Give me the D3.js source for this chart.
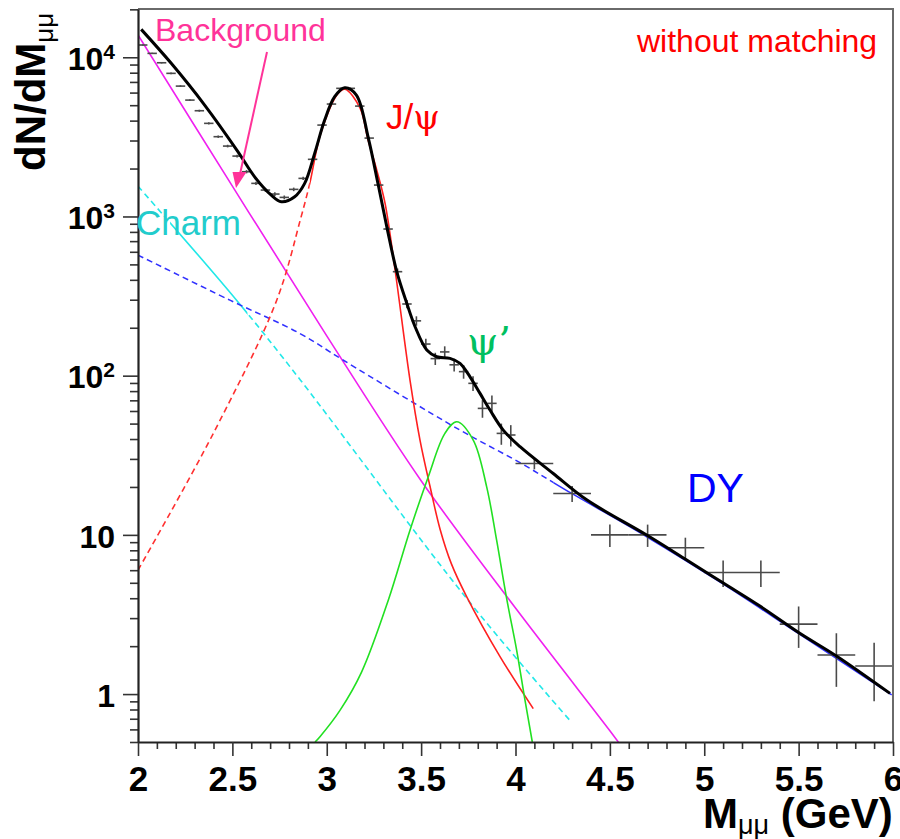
<!DOCTYPE html>
<html>
<head>
<meta charset="utf-8">
<script src="https://cdn.jsdelivr.net/npm/d3@7"></script>
<style>
  body { margin: 0; background: #fff; }
  text { font-family: "Liberation Sans", Arial, Helvetica, sans-serif; }
</style>
</head>
<body>
<svg id="chart" width="900" height="839"></svg>
<script>
// measured points (0.05 GeV bins)
const fineMass = [2.025, 2.075, 2.125, 2.175, 2.225, 2.275, 2.325, 2.375, 2.425, 2.475,
                  2.525, 2.575, 2.625, 2.675, 2.725, 2.775, 2.825, 2.875, 2.925, 2.975,
                  3.025, 3.075, 3.125, 3.175, 3.225, 3.275, 3.325, 3.375, 3.425, 3.475,
                  3.525, 3.575, 3.625, 3.675, 3.725, 3.775, 3.825, 3.875, 3.925, 3.975];
const fineValue = [11940, 10580, 9236, 7925, 6590, 5383, 4615, 3845, 3170, 2768,
                   2395, 1910, 1614, 1465, 1383, 1318, 1480, 1735, 2285, 3750,
                   5083, 6380, 6380, 4935, 3107, 1575, 834, 450, 282, 221,
                   158, 128, 141, 117, 106, 89.5, 62.3, 67, 43.4, 42.4];
const fineErr = [110, 103, 96, 89, 81, 73, 68, 62, 56, 53,
                 49, 44, 40, 38, 37, 36, 38, 42, 48, 61,
                 71, 80, 80, 70, 56, 40, 29, 21, 17, 15,
                 12.5, 11.3, 11.9, 10.8, 10.3, 9.5, 7.9, 8.2, 6.6, 6.5];
// measured points (0.2 GeV bins)
const wideMass = [4.1, 4.3, 4.5, 4.7, 4.9, 5.1, 5.3, 5.5, 5.7, 5.9];
const wideValue = [28.1, 18.2, 10, 10, 8.3, 5.8, 5.8, 2.75, 1.76, 1.5];
const wideErr = [2.3, 2.1, 1.6, 1.6, 1.3, 1.1, 1.1, 0.8, 0.65, 0.6];

// fit components
const bkgMass = [2.0, 2.5, 3.0, 3.5, 4.0, 4.5, 4.55];
const bkgValue = [13800, 1550, 178, 21.9, 3.47, 0.589, 0.49];

const charmMass = [2.0, 2.52, 2.86, 3.74, 4.285];
const charmValue = [1550, 300, 94, 4.0, 0.69];

const jpsiMass = [2.0, 2.399, 2.735, 2.862, 2.91, 2.968, 3.06, 3.097, 3.176, 3.219,
                  3.265, 3.309, 3.362, 3.441, 3.494, 3.547, 3.6, 3.66, 3.741, 3.918, 4.094];
const jpsiValue = [6.0, 43.4, 298, 973, 1614, 3325, 5930, 6300, 4800, 3020,
                   1955, 1208, 461, 93.8, 39.4, 20.2, 10.9, 6.6, 4.1, 1.72, 0.81];

const psi2Mass = [2.938, 2.964, 3.07, 3.185, 3.326, 3.441, 3.538, 3.626, 3.689,
                  3.776, 3.847, 3.9, 3.953, 4.006, 4.05, 4.089];
const psi2Value = [0.5, 0.54, 0.79, 1.38, 3.89, 10.7, 23.2, 43.4, 51.3,
                   39.4, 20.1, 9.27, 3.99, 1.89, 0.92, 0.5];

const dyMass = [2.0, 2.487, 2.858, 3.088, 3.706, 4.024, 4.298, 4.695, 5.101, 5.504, 5.993];
const dyValue = [572, 298, 184, 125, 45.5, 28.4, 18.2, 9.73, 4.9, 2.38, 0.99];

const totalMass = [2.017, 2.176, 2.353, 2.53, 2.618, 2.706, 2.759, 2.83, 2.883, 2.936,
                   2.989, 3.042, 3.095, 3.157, 3.22, 3.273, 3.321, 3.371, 3.424, 3.468,
                   3.53, 3.583, 3.653, 3.706, 3.759, 3.812, 3.865, 3.935, 4.024, 4.2,
                   4.377, 4.695, 4.907, 5.101, 5.295, 5.504, 5.702, 5.984];
const totalValue = [14970, 9160, 5010, 2548, 1775, 1363, 1237, 1330, 1614, 2490,
                    4033, 5650, 6430, 5790, 3120, 1575, 830, 450, 285, 203,
                    145, 131.5, 128.5, 119.4, 98.4, 77.4, 60.8, 45.5, 35.8, 24.3,
                    16.6, 9.97, 6.95, 4.98, 3.57, 2.42, 1.73, 1.01];

const xMajor = [2, 2.5, 3, 3.5, 4, 4.5, 5, 5.5, 6];
const yMajor = [1, 10, 100, 1000, 10000];

const plotLeft = 138, plotRight = 893, plotTop = 9, plotBottom = 742;
const svg = d3.select("#chart");

const x = d3.scaleLinear().domain([2, 6]).range([plotLeft, plotRight]);
const y = d3.scaleLog().domain([0.5, 20100]).range([plotBottom, plotTop]);

const defs = svg.append("defs");
function addClip(id, m0, m1) {
    defs.append("clipPath").attr("id", id)
        .append("rect")
        .attr("x", x(m0)).attr("y", plotTop)
        .attr("width", x(m1) - x(m0)).attr("height", plotBottom - plotTop);
}
addClip("plotArea", 2, 6);
addClip("jpsiDash", 2, 2.91);
addClip("jpsiSolid", 2.91, 6);
addClip("charmDashA", 2, 2.17);
addClip("charmSolid", 2.17, 2.58);
addClip("charmDashB", 2.58, 6);
addClip("dyDash", 2, 4.2);
addClip("dySolid", 4.2, 6);

const line = d3.line()
    .x(d => x(d[0]))
    .y(d => y(d[1]))
    .curve(d3.curveCatmullRom.alpha(0.5));

function drawCurve(mass, value, color, width, dash, clipId) {
    svg.append("path")
        .attr("clip-path", `url(#${clipId})`)
        .attr("fill", "none")
        .attr("stroke", color)
        .attr("stroke-width", width)
        .attr("stroke-dasharray", dash)
        .attr("d", line(d3.zip(mass, value)));
}

// components
drawCurve(bkgMass, bkgValue, "#f020f0", 1.6, null, "plotArea");
drawCurve(charmMass, charmValue, "#22e8e8", 1.6, "6,4", "charmDashA");
drawCurve(charmMass, charmValue, "#22e8e8", 1.6, null, "charmSolid");
drawCurve(charmMass, charmValue, "#22e8e8", 1.6, "6,4", "charmDashB");
drawCurve(dyMass, dyValue, "#3030ff", 1.5, "6,4", "dyDash");
drawCurve(dyMass, dyValue, "#3030ff", 1.5, null, "dySolid");
drawCurve(jpsiMass, jpsiValue, "#ff3030", 1.6, "6,4", "jpsiDash");
drawCurve(jpsiMass, jpsiValue, "#ff2020", 1.6, null, "jpsiSolid");
drawCurve(psi2Mass, psi2Value, "#22e022", 1.6, null, "plotArea");

// data crosses
const pts = d3.zip(fineMass, fineValue, fineErr).map(d => ({m: d[0], v: d[1], e: d[2], h: 0.025}))
    .concat(d3.zip(wideMass, wideValue, wideErr).map(d => ({m: d[0], v: d[1], e: d[2], h: 0.1})));

const cross = svg.append("g")
    .attr("clip-path", "url(#plotArea)")
    .attr("stroke", "#4a4a4a")
    .attr("stroke-width", 1.6);
cross.selectAll("line.h")
    .data(pts)
    .join("line")
    .attr("class", "h")
    .attr("x1", d => x(d.m - d.h)).attr("x2", d => x(d.m + d.h))
    .attr("y1", d => y(d.v)).attr("y2", d => y(d.v));
cross.selectAll("line.v")
    .data(pts)
    .join("line")
    .attr("class", "v")
    .attr("x1", d => x(d.m)).attr("x2", d => x(d.m))
    .attr("y1", d => y(d.v + d.e)).attr("y2", d => y(Math.max(d.v - d.e, 0.3)));

// total fit
drawCurve(totalMass, totalValue, "#000", 3, null, "plotArea");

// frame
svg.append("path")
    .attr("fill", "none")
    .attr("stroke", "#6a6a6a")
    .attr("stroke-width", 2)
    .attr("d", `M${plotLeft},${plotTop}H${plotRight}V${plotBottom}`);

// x axis
const xMinor = d3.range(20, 61).map(d => d / 10).filter(d => !xMajor.some(m => Math.abs(m - d) < 1e-9));
svg.append("g")
    .attr("transform", `translate(0,${plotBottom})`)
    .call(d3.axisBottom(x).tickValues(xMinor).tickSize(7).tickFormat(""))
    .call(g => g.select(".domain").remove())
    .call(g => g.selectAll(".tick line").attr("stroke", "#333").attr("stroke-width", 1.6));
svg.append("g")
    .attr("transform", `translate(0,${plotBottom})`)
    .call(d3.axisBottom(x).tickValues(xMajor).tickSize(14).tickSizeOuter(0).tickPadding(10).tickFormat(d3.format("~g")))
    .call(g => g.select(".domain").attr("stroke", "#222").attr("stroke-width", 2.2))
    .call(g => g.selectAll(".tick line").attr("stroke", "#333").attr("stroke-width", 1.6))
    .call(g => g.selectAll(".tick text")
        .attr("fill", "#000")
        .attr("font-size", 35)
        .attr("font-weight", "bold")
        .style("font-family", "'Liberation Sans', Arial, sans-serif"));

// y axis
const yMinor = [];
[0.1, 1, 10, 100, 1000, 10000].forEach(p => {
    for (let k = 2; k <= 9; k++) {
        const v = k * p;
        if (v >= 0.5 && v <= 20100) yMinor.push(v);
    }
});
svg.append("g")
    .attr("transform", `translate(${plotLeft},0)`)
    .call(d3.axisLeft(y).tickValues(yMinor).tickSize(8).tickFormat(""))
    .call(g => g.select(".domain").remove())
    .call(g => g.selectAll(".tick line").attr("stroke", "#333").attr("stroke-width", 1.6));
svg.append("g")
    .attr("transform", `translate(${plotLeft},0)`)
    .call(d3.axisLeft(y).tickValues(yMajor).tickSize(15).tickSizeOuter(0).tickPadding(8).tickFormat(""))
    .call(g => g.select(".domain").attr("stroke", "#222").attr("stroke-width", 2.2))
    .call(g => g.selectAll(".tick line").attr("stroke", "#333").attr("stroke-width", 1.6))
    .call(g => g.selectAll(".tick text")
        .attr("fill", "#000")
        .attr("font-size", 32)
        .attr("font-weight", "bold")
        .attr("dy", "0.38em")
        .style("font-family", "'Liberation Sans', Arial, sans-serif")
        .each(function(d) {
            const t = d3.select(this);
            const e = Math.round(Math.log10(d));
            if (e < 2) {
                t.text(d);
            } else {
                t.append("tspan").text("10");
                t.append("tspan").attr("dy", -11).attr("font-size", 21).text(e);
            }
        }));

// axis titles
const yTitle = svg.append("text")
    .attr("transform", "translate(45,171) rotate(-90)")
    .attr("font-weight", "bold")
    .attr("font-size", 42)
    .attr("fill", "#000");
yTitle.append("tspan").text("dN/dM");
yTitle.append("tspan").attr("dy", 8).attr("font-size", 26).attr("font-weight", "normal").text("μμ");

const xTitle = svg.append("text")
    .attr("x", 703).attr("y", 828)
    .attr("font-weight", "bold")
    .attr("font-size", 42)
    .attr("fill", "#000");
xTitle.append("tspan").text("M");
xTitle.append("tspan").attr("dy", 6).attr("font-size", 27).attr("font-weight", "normal").text("μμ");
xTitle.append("tspan").attr("dy", -6).text(" (GeV)");

// labels
svg.append("text").attr("x", 155).attr("y", 41).attr("font-size", 32).attr("fill", "#ff3399").text("Background");
svg.append("line")
    .attr("x1", 267).attr("y1", 52).attr("x2", 240).attr("y2", 174)
    .attr("stroke", "#ff3399").attr("stroke-width", 2);
svg.append("path")
    .attr("fill", "#ff3399")
    .attr("d", "M236,188 L232.5,172 L246.5,172 Z");

svg.append("text").attr("x", 637).attr("y", 52).attr("font-size", 32).attr("fill", "#ff0000").text("without matching");

const jl = svg.append("text").attr("x", 386).attr("y", 129).attr("font-size", 35).attr("fill", "#ff0000");
jl.append("tspan").text("J/");
jl.append("tspan").style("font-family", "'DejaVu Serif', 'Liberation Serif', serif").attr("font-size", 34).text("ψ");

svg.append("text").attr("x", 136).attr("y", 235).attr("font-size", 35).attr("fill", "#22cccc").text("Charm");

svg.append("text").attr("x", 467).attr("y", 355).attr("font-size", 40).attr("fill", "#00c060")
    .style("font-family", "'DejaVu Serif', 'Liberation Serif', serif").text("ψ’");

svg.append("text").attr("x", 687).attr("y", 502).attr("font-size", 41).attr("fill", "#0000ff").text("DY");
</script>
</body>
</html>
